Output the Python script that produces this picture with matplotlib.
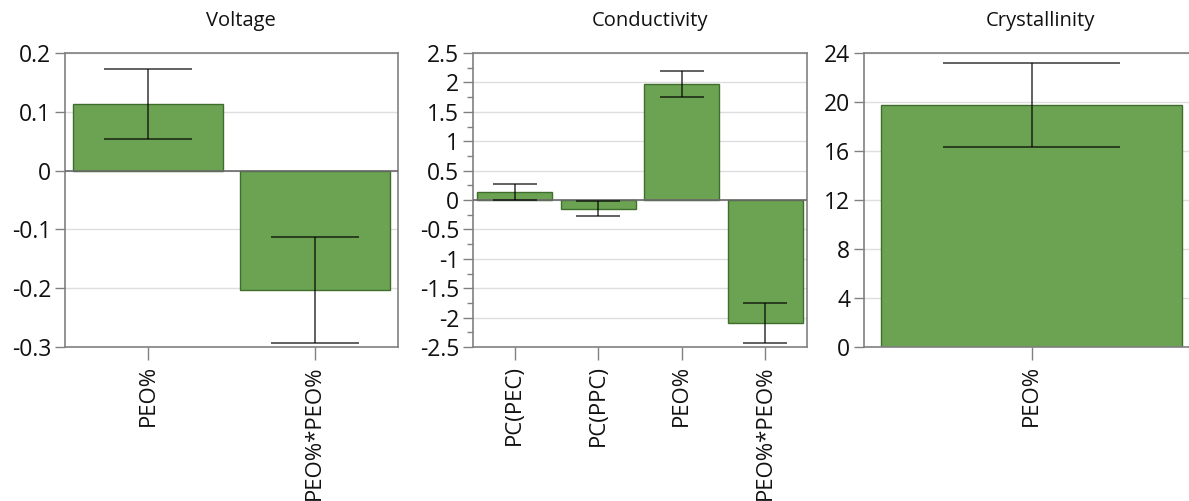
import numpy as np
import matplotlib
matplotlib.use("Agg")
import matplotlib.pyplot as plt

plt.rcParams['font.family'] = ['Open Sans', 'DejaVu Sans']

# ---- data ----
volt_labels = ["PEO%", "PEO%*PEO%"]
volt_vals = [0.113, -0.203]
volt_errs = [0.059, 0.090]

cond_labels = ["PC(PEC)", "PC(PPC)", "PEO%", "PEO%*PEO%"]
cond_vals = [0.14, -0.145, 1.98, -2.09]
cond_errs = [0.135, 0.135, 0.22, 0.34]

cryst_labels = ["PEO%"]
cryst_vals = [19.77]
cryst_errs = [3.42]

titles = ["Voltage", "Conductivity", "Crystallinity"]

W, H = 1189, 501
fig = plt.figure(figsize=(W / 100, H / 100), dpi=100)

def px_axes(l, r, t, b):
    return fig.add_axes([l / W, (H - b) / H, (r - l) / W, (b - t) / H])

BAR = "#6ba353"
EDGE = "#3f6e2c"
SPINE = "#808080"

def panel(ax, labels, vals, errs, ylim, yticks, ticklabels, minor=None, zero=True):
    x = np.arange(len(labels))
    v = np.array(vals)
    e = np.array(errs)
    ax.set_axisbelow(True)
    ax.yaxis.grid(True, color="#dedede", linewidth=1.0)
    ax.bar(x, v, width=0.9, color=BAR, edgecolor=EDGE, linewidth=1.0, zorder=2)
    if zero:
        ax.axhline(0, color="#6a6a6a", linewidth=1.2, zorder=3)
    ax.vlines(x, v - e, v + e, color="black", alpha=0.62, linewidth=1.4, zorder=4)
    ax.hlines(v + e, x - 0.265, x + 0.265, color="black", alpha=0.62, linewidth=1.4, zorder=4)
    ax.hlines(v - e, x - 0.265, x + 0.265, color="black", alpha=0.62, linewidth=1.4, zorder=4)
    ax.set_xlim(-0.5, len(labels) - 0.5)
    ax.set_ylim(*ylim)
    ax.set_yticks(yticks)
    ax.set_yticklabels(ticklabels)
    if minor is not None:
        ax.set_yticks(minor, minor=True)
        ax.tick_params(axis="y", which="minor", length=4, color=SPINE, width=1)
    ax.set_xticks(x)
    ax.set_xticklabels(labels, rotation=90, fontsize=16)
    ax.tick_params(axis="y", which="major", labelsize=16.5, length=7, width=1,
                   color=SPINE, pad=3, labelcolor="#111111")
    ax.tick_params(axis="x", length=9, width=1, color=SPINE, pad=4, labelcolor="#111111")
    for s in ax.spines.values():
        s.set_color(SPINE)
        s.set_linewidth(1.2)

ax1 = px_axes(65, 398, 53, 347)
panel(ax1, volt_labels, volt_vals, volt_errs, (-0.3, 0.2),
      [-0.3, -0.2, -0.1, 0, 0.1, 0.2], ["-0.3", "-0.2", "-0.1", "0", "0.1", "0.2"])

ax2 = px_axes(473, 807, 53, 347)
ct = [-2.5, -2, -1.5, -1, -0.5, 0, 0.5, 1, 1.5, 2, 2.5]
panel(ax2, cond_labels, cond_vals, cond_errs, (-2.5, 2.5), ct,
      ["-2.5", "-2", "-1.5", "-1", "-0.5", "0", "0.5", "1", "1.5", "2", "2.5"],
      minor=np.arange(-2.25, 2.5, 0.5))

ax3 = px_axes(864, 1199, 53, 347)
panel(ax3, cryst_labels, cryst_vals, cryst_errs, (0, 24),
      [0, 4, 8, 12, 16, 20, 24], ["0", "4", "8", "12", "16", "20", "24"], zero=False)

for xc, t in zip([241, 650, 1040], titles):
    fig.text(xc / W, 1 - 21 / H, t, ha="center", va="center", fontsize=14.5, color="#111111")

fig.savefig("out.png", dpi=100)
